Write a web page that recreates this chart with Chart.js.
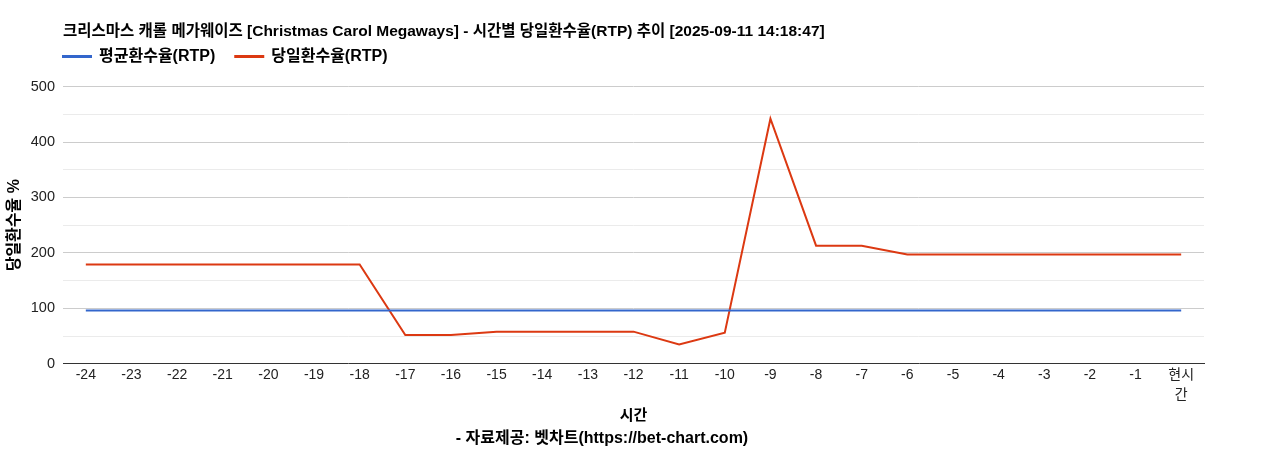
<!DOCTYPE html>
<html>
<head>
<meta charset="utf-8">
<script src="https://cdn.jsdelivr.net/npm/chart.js@4"></script>
<style>
  html, body { margin: 0; padding: 0; background: #fff; }
  #wrap { width: 1268px; height: 450px; }
</style>
</head>
<body>
<div id="wrap"><canvas id="rtpChart"></canvas></div>
<script>
// hours before now, last one is "now"
const hours = ['-24', '-23', '-22', '-21', '-20', '-19', '-18', '-17', '-16', '-15', '-14', '-13',
  '-12', '-11', '-10', '-9', '-8', '-7', '-6', '-5', '-4', '-3', '-2', '-1', ['현시', '간']];

const avgRtp = [96, 96, 96, 96, 96, 96, 96, 96, 96, 96, 96, 96,
  96, 96, 96, 96, 96, 96, 96, 96, 96, 96, 96, 96, 96];

const dailyRtp = [179, 179, 179, 179, 179, 179, 179, 52, 52, 58, 58, 58,
  58, 35, 56, 442, 213, 213, 197, 197, 197, 197, 197, 197, 197];

const yTicks = [0, 100, 200, 300, 400, 500];

const FONT = '"Liberation Sans", Arial, "Noto Sans CJK KR", sans-serif';
Chart.defaults.font.family = FONT;
Chart.defaults.color = '#222';

// legend sits tighter under the title than its padding allows, nudge it
const legendNudge = {
  id: 'legendNudge',
  afterLayout(chart) {
    const lg = chart.legend;
    if (!lg) return;
    lg.top -= 12;
    lg.bottom -= 12;
    lg.left -= lg.options.labels.padding;
  }
};

new Chart(document.getElementById('rtpChart'), {
  type: 'line',
  data: {
    labels: hours,
    datasets: [
      {
        label: '평균환수율(RTP)',
        data: avgRtp,
        borderColor: '#3366cc',
        backgroundColor: '#3366cc',
        borderWidth: 2,
        pointRadius: 0,
        tension: 0
      },
      {
        label: '당일환수율(RTP)',
        data: dailyRtp,
        borderColor: '#dc3912',
        backgroundColor: '#dc3912',
        borderWidth: 2,
        pointRadius: 0,
        tension: 0
      }
    ]
  },
  plugins: [legendNudge],
  options: {
    responsive: true,
    maintainAspectRatio: false,
    animation: false,
    layout: { padding: { top: 0, right: 64, bottom: 0, left: 0 } },
    plugins: {
      title: {
        display: true,
        fullSize: false,
        align: 'start',
        text: '크리스마스 캐롤 메가웨이즈 [Christmas Carol Megaways] - 시간별 당일환수율(RTP) 추이 [2025-09-11 14:18:47]',
        color: '#000',
        font: { size: 15.5, weight: 'bold' },
        padding: { top: 22, bottom: 0 }
      },
      subtitle: {
        display: true,
        position: 'bottom',
        text: '- 자료제공: 벳차트(https://bet-chart.com)',
        color: '#000',
        font: { size: 16, weight: 'bold' },
        padding: { top: 4.4, bottom: 1.4 }
      },
      legend: {
        fullSize: false,
        align: 'start',
        labels: {
          boxWidth: 28,
          boxHeight: 1,
          color: '#000',
          font: { size: 16, weight: 'bold' },
          padding: 20
        }
      },
      tooltip: { enabled: false }
    },
    scales: {
      x: {
        offset: true,
        grid: { display: false, drawTicks: false },
        border: { display: true, color: '#333', width: 1 },
        ticks: {
          autoSkip: false,
          maxRotation: 0,
          font: { size: 14, lineHeight: 1.4 },
          color: '#222',
          padding: 2
        },
        title: {
          display: true,
          text: '시간',
          color: '#000',
          font: { size: 15, weight: 'bold' },
          padding: { top: 0, bottom: 0 }
        }
      },
      y: {
        min: 0,
        max: 500,
        border: { display: false },
        afterFit: (scale) => { scale.width = 63; },
        afterBuildTicks: (scale) => {
          const all = [];
          for (let i = 0; i < yTicks.length - 1; i++) {
            all.push(yTicks[i], (yTicks[i] + yTicks[i + 1]) / 2);
          }
          all.push(yTicks[yTicks.length - 1]);
          scale.ticks = all.map(v => ({ value: v }));
        },
        grid: {
          color: (ctx) => {
            const v = ctx.tick.value;
            if (v === 0) return 'rgba(0,0,0,0)';
            return yTicks.includes(v) ? '#cccccc' : '#ebebeb';
          },
          lineWidth: 1,
          drawTicks: false
        },
        ticks: {
          font: { size: 14.5 },
          color: '#222',
          padding: 8,
          callback: (v) => yTicks.includes(v) ? v : ''
        },
        title: {
          display: true,
          text: '당일환수율 %',
          color: '#000',
          font: { size: 16, weight: 'bold' },
          padding: { top: 5, bottom: 0 }
        }
      }
    }
  }
});
</script>
</body>
</html>
